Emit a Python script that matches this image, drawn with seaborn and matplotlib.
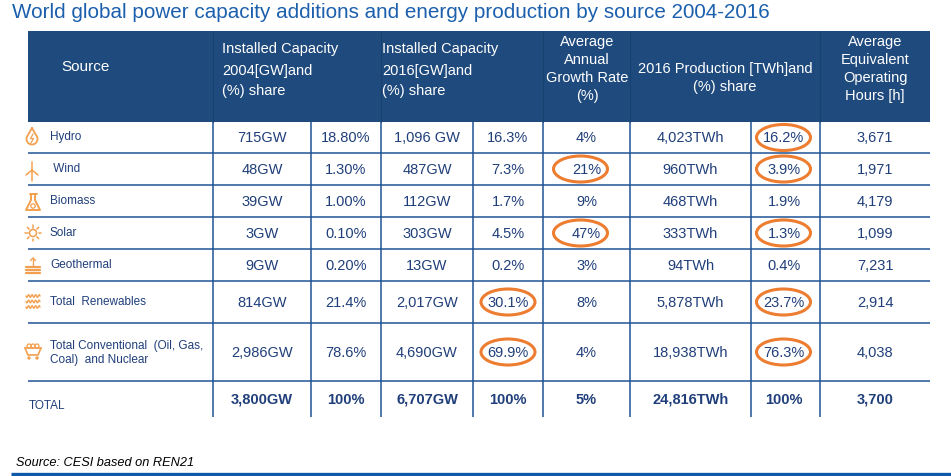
import numpy as np
import matplotlib
matplotlib.use("Agg")
import matplotlib.pyplot as plt
import matplotlib.patches as mpatches
import seaborn as sns

sns.set_theme(style="white")
plt.rcParams['font.family'] = ['Liberation Sans', 'DejaVu Sans']

# ---------------- data ----------------
title = "World global power capacity additions and energy production by source 2004-2016"
source_note = "Source: CESI based on REN21"

sources = ["Hydro", " Wind", "Biomass", "Solar", "Geothermal", "Total  Renewables",
           "Total Conventional  (Oil, Gas,\nCoal)  and Nuclear", "TOTAL"]
cap_2004 = ["715GW", "48GW", "39GW", "3GW", "9GW", "814GW", "2,986GW", "3,800GW"]
share_2004 = ["18.80%", "1.30%", "1.00%", "0.10%", "0.20%", "21.4%", "78.6%", "100%"]
cap_2016 = ["1,096 GW", "487GW", "112GW", "303GW", "13GW", "2,017GW", "4,690GW", "6,707GW"]
share_2016 = ["16.3%", "7.3%", "1.7%", "4.5%", "0.2%", "30.1%", "69.9%", "100%"]
growth = ["4%", "21%", "9%", "47%", "3%", "8%", "4%", "5%"]
prod_2016 = ["4,023TWh", "960TWh", "468TWh", "333TWh", "94TWh", "5,878TWh", "18,938TWh", "24,816TWh"]
share_prod = ["16.2%", "3.9%", "1.9%", "1.3%", "0.4%", "23.7%", "76.3%", "100%"]
hours = ["3,671", "1,971", "4,179", "1,099", "7,231", "2,914", "4,038", "3,700"]

# highlighted cells: (row index, column index among value columns 0..7)
highlights = [(0, 6), (1, 4), (1, 6), (3, 4), (3, 6), (5, 3), (5, 6), (6, 3), (6, 6)]

header_source = "Source"
header_2004 = ["Installed Capacity", "2004[GW]and", "(%) share"]
header_2016 = ["Installed Capacity", "2016[GW]and", "(%) share"]
header_growth = ["Average", "Annual", "Growth Rate", "(%)"]
header_prod = ["2016 Production [TWh]and", "(%) share"]
header_hours = ["Average", "Equivalent", "Operating", "Hours [h]"]

# ---------------- layout ----------------
W, H = 951, 477
fig = plt.figure(figsize=(W / 100, H / 100), dpi=100)
ax = fig.add_axes([0, 0, 1, 1])
ax.set_xlim(0, W)
ax.set_ylim(H, 0)
ax.axis("off")

HDR = "#1f4a7d"
LINE = "#1f5394"
TXT = "#203f7a"
ORANGE = "#ed7d31"
ICON = "#f2a04f"

x_left, x_right = 28, 930
col_edges = [213, 311, 381, 473, 543, 630, 751, 820, 930]
hdr_top, hdr_bot = 32, 123
row_edges = [123, 154, 186, 218, 250, 282, 324, 382, 418]

# title
ax.text(12, 12, title, fontsize=14.9, color="#1b5fad", va="center", ha="left")

# header block
ax.add_patch(mpatches.Rectangle((x_left, hdr_top), x_right - x_left, hdr_bot - hdr_top,
                                facecolor=HDR, edgecolor="none"))
for xv in [213, 381, 543, 630, 820]:
    ax.plot([xv, xv], [hdr_top, hdr_bot], color="#16406e", lw=0.8)

hfs = 10.5
ax.text(61, 67, header_source, color="white", fontsize=11, va="center", ha="left")
for i, yy in enumerate([49, 71, 91]):
    ax.text(222, yy, header_2004[i], color="white", fontsize=hfs, va="center", ha="left")
    ax.text(382, yy, header_2016[i], color="white", fontsize=hfs, va="center", ha="left")
for i, yy in enumerate([42, 60, 78, 96]):
    ax.text(587, yy, header_growth[i], color="white", fontsize=hfs, va="center", ha="center")
    ax.text(875, yy, header_hours[i], color="white", fontsize=hfs, va="center", ha="center")
for i, yy in enumerate([69, 87]):
    ax.text(725, yy, header_prod[i], color="white", fontsize=hfs, va="center", ha="center")

# grid lines
for yv in row_edges[1:-1]:
    ax.plot([x_left, x_right], [yv, yv], color=LINE, lw=1.1, solid_capstyle="butt")
for xv in col_edges[:-1]:
    ax.plot([xv, xv], [row_edges[0], row_edges[-1]], color=LINE, lw=1.1, solid_capstyle="butt")

# body values
columns = [cap_2004, share_2004, cap_2016, share_2016, growth, prod_2016, share_prod, hours]
col_centers = [(col_edges[i] + col_edges[i + 1]) / 2 for i in range(8)]
for r in range(len(sources)):
    yc = (row_edges[r] + row_edges[r + 1]) / 2
    is_total = r == len(sources) - 1
    if is_total:
        yc = 400
    for c, col in enumerate(columns):
        xc = col_centers[c]
        if c == 6:
            xc = 784
        ax.text(xc, yc, col[r], fontsize=10.5, color=TXT, va="center", ha="center",
                fontweight="bold" if is_total else "normal")
    # row label
    if is_total:
        ax.text(29, 406, sources[r], fontsize=8.5, color=TXT, va="center", ha="left")
    elif "\n" in sources[r]:
        l1, l2 = sources[r].split("\n")
        ax.text(50, yc - 7, l1, fontsize=8.5, color=TXT, va="center", ha="left")
        ax.text(50, yc + 7, l2, fontsize=8.5, color=TXT, va="center", ha="left")
    else:
        ax.text(50, yc - 1, sources[r], fontsize=8.5, color=TXT, va="center", ha="left")

# highlight ellipses
for r, c in highlights:
    yc = (row_edges[r] + row_edges[r + 1]) / 2
    xc = col_centers[c] - (2 if c == 6 else 6 if c == 4 else 0)
    ax.add_patch(mpatches.Ellipse((xc, yc), 54, 26, facecolor="none",
                                  edgecolor=ORANGE, lw=2.2))

# ---------------- icons ----------------
def icon_drop(cx, cy):
    t = np.linspace(-0.2 * np.pi, 1.2 * np.pi, 40)
    xs = cx + 5.5 * np.cos(t)
    ys = cy + 2 + 5.5 * np.sin(t)
    xs = np.concatenate([[cx], xs, [cx]])
    ys = np.concatenate([[cy - 9], ys, [cy - 9]])
    ax.plot(xs, ys, color=ICON, lw=1.3)
    ax.plot([cx + 1, cx - 1.5, cx + 1.5, cx - 1], [cy - 3, cy + 1.5, cy + 1.5, cy + 6], color=ICON, lw=0.9)

def icon_wind(cx, cy):
    hub = (cx, cy - 1)
    ax.plot([cx, cx], [hub[1], cy + 10], color=ICON, lw=1.1)
    ax.plot([cx, cx], [hub[1], cy - 9], color=ICON, lw=1.1)
    ax.plot([cx, cx - 6], [hub[1], hub[1] + 5], color=ICON, lw=1.1)
    ax.plot([cx, cx + 6], [hub[1], hub[1] + 5], color=ICON, lw=1.1)

def icon_flask(cx, cy):
    xs = [cx - 2, cx - 2, cx - 7, cx + 7, cx + 2, cx + 2]
    ys = [cy - 8, cy - 2, cy + 8, cy + 8, cy - 2, cy - 8]
    ax.plot(xs, ys, color=ICON, lw=1.4)
    ax.plot([cx - 3.5, cx + 3.5], [cy - 8, cy - 8], color=ICON, lw=1.4)
    ax.add_patch(mpatches.Circle((cx, cy + 4), 2.2, facecolor="none", edgecolor=ICON, lw=0.9))

def icon_sun(cx, cy):
    ax.add_patch(mpatches.Circle((cx, cy), 3.5, facecolor="none", edgecolor=ICON, lw=1.1))
    for k in range(8):
        a = k * np.pi / 4
        ax.plot([cx + 5.5 * np.cos(a), cx + 8 * np.cos(a)],
                [cy + 5.5 * np.sin(a), cy + 8 * np.sin(a)], color=ICON, lw=1.1)

def icon_geo(cx, cy):
    for k in range(3):
        ax.plot([cx - 7, cx + 7], [cy + 1 + 3 * k, cy + 1 + 3 * k], color=ICON, lw=1.6)
    ax.plot([cx, cx], [cy - 1, cy - 8], color=ICON, lw=1.0)
    ax.plot([cx - 2.5, cx, cx + 2.5], [cy - 5.5, cy - 8, cy - 5.5], color=ICON, lw=1.0)

def icon_waves(cx, cy):
    t = np.linspace(-7, 7, 60)
    for k in range(3):
        ax.plot(cx + t, cy - 6 + 5.5 * k + 1.3 * np.sin(t * 1.8), color=ICON, lw=1.0)

def icon_cart(cx, cy):
    ax.plot([cx - 8, cx - 5, cx + 5, cx + 8], [cy - 2, cy + 5, cy + 5, cy - 2], color=ICON, lw=1.2)
    ax.plot([cx - 8, cx + 8], [cy - 2, cy - 2], color=ICON, lw=1.2)
    for dx in [-4, 0, 4]:
        ax.add_patch(mpatches.Circle((cx + dx, cy - 4), 2, facecolor="none", edgecolor=ICON, lw=0.9))
    for dx in [-4, 4]:
        ax.add_patch(mpatches.Circle((cx + dx, cy + 8), 1.3, facecolor=ICON, edgecolor=ICON, lw=0.5))

icon_drop(32, 138)
icon_wind(32, 172)
icon_flask(33, 203)
icon_sun(33, 234)
icon_geo(33, 267)
icon_waves(33, 303)
icon_cart(33, 351)

# source note and bottom rule
ax.text(16, 463, source_note, fontsize=9.2, color="black", style="italic", va="center", ha="left")
ax.plot([11, 951], [475, 475], color="#0f5aa8", lw=2.4, solid_capstyle="butt")

fig.savefig("out.png", dpi=100)
